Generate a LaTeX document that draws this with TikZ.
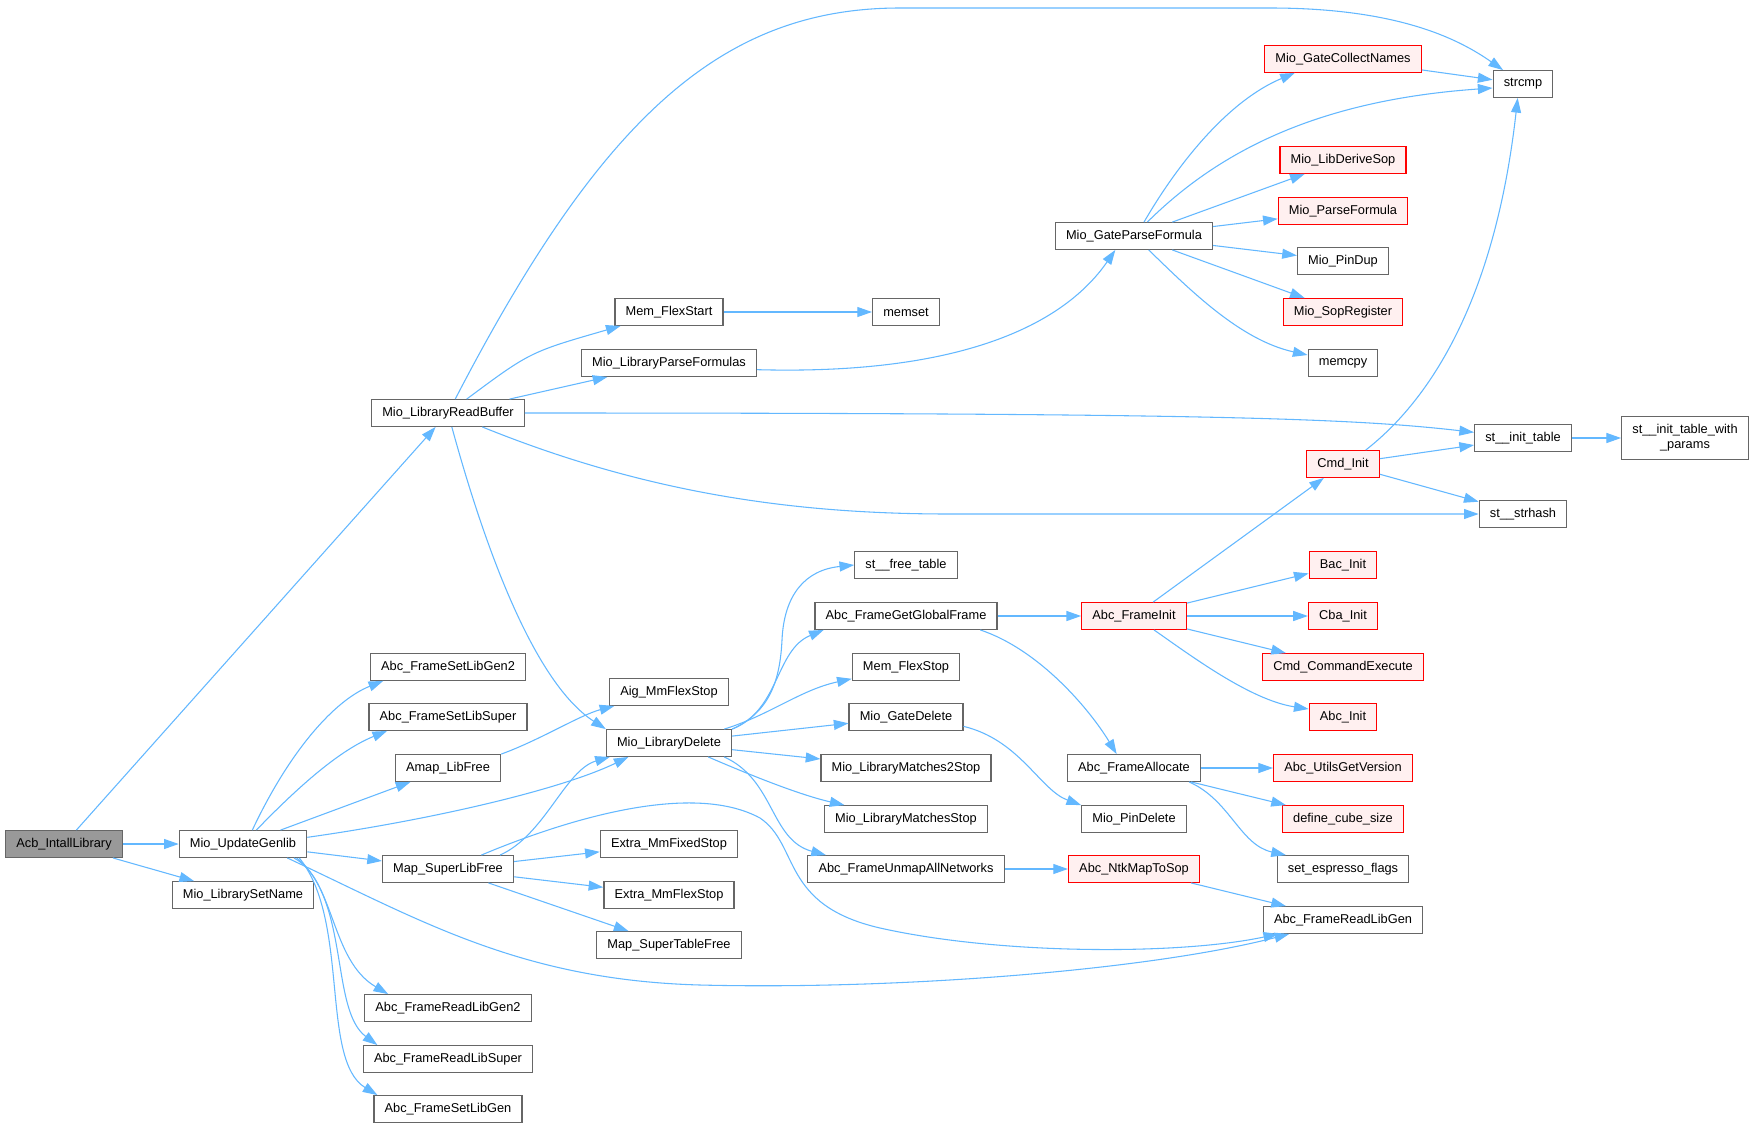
\documentclass[tikz,border=0pt]{standalone}
\usepackage{fontspec}
\setmainfont{Liberation Sans}
\usepackage{xcolor}
\usetikzlibrary{arrows.meta,positioning}

\definecolor{edgeblue}{HTML}{63B8FF}
\definecolor{boxgray}{HTML}{666666}
\definecolor{redfill}{HTML}{FFF0F0}
\definecolor{rootgray}{HTML}{999999}

\begin{document}
\begin{tikzpicture}[
    x=0.75pt, y=-0.75pt,
    func/.style={rectangle, draw=boxgray, fill=white, line width=0.9pt, minimum height=20pt, inner xsep=8pt, inner ysep=2pt, font=\fontsize{9.6}{11.5}\selectfont},
    funcred/.style={func, draw=red, fill=redfill},
    funcroot/.style={func, fill=rootgray},
    arrow/.style={-{Triangle[length=11pt,width=7.5pt]}, draw=edgeblue, line width=0.8pt}
]
\fill[white] (0,0) rectangle (1755,1128);
\useasboundingbox (0,0) rectangle (1755,1128);

% Draw functions
\node[funcroot] (acb) at (64,844) {Acb\_IntallLibrary};
\node[func] (updgen) at (243,844) {Mio\_UpdateGenlib};
\node[func] (setname) at (243,895) {Mio\_LibrarySetName};

\node[func] (readbuf) at (448,413) {Mio\_LibraryReadBuffer};
\node[func] (setgen2) at (448,667) {Abc\_FrameSetLibGen2};
\node[func] (setsuper) at (448,717) {Abc\_FrameSetLibSuper};
\node[func] (amapfree) at (448,768) {Amap\_LibFree};
\node[func] (superfree) at (448,869) {Map\_SuperLibFree};
\node[func] (readgen2) at (448,1008) {Abc\_FrameReadLibGen2};
\node[func] (readsuper) at (448,1059) {Abc\_FrameReadLibSuper};
\node[func] (setgen) at (448,1109) {Abc\_FrameSetLibGen};

\node[func] (flexstart) at (669,312) {Mem\_FlexStart};
\node[func] (parseforms) at (669,363) {Mio\_LibraryParseFormulas};
\node[func] (aigstop) at (669,692) {Aig\_MmFlexStop};
\node[func] (libdelete) at (669,743) {Mio\_LibraryDelete};
\node[func] (fixedstop) at (669,844) {Extra\_MmFixedStop};
\node[func] (extraflex) at (669,895) {Extra\_MmFlexStop};
\node[func] (supertable) at (669,945) {Map\_SuperTableFree};

\node[func] (memset) at (906,312) {memset};
\node[func] (freetable) at (906,565) {st\_\_free\_table};
\node[func] (globalframe) at (906,616) {Abc\_FrameGetGlobalFrame};
\node[func] (memflexstop) at (906,667) {Mem\_FlexStop};
\node[func] (gatedelete) at (906,717) {Mio\_GateDelete};
\node[func] (matches2) at (906,768) {Mio\_LibraryMatches2Stop};
\node[func] (matches) at (906,819) {Mio\_LibraryMatchesStop};
\node[func] (unmap) at (906,869) {Abc\_FrameUnmapAllNetworks};

\node[func] (gateparse) at (1134,236) {Mio\_GateParseFormula};
\node[funcred] (frameinit) at (1134,616) {Abc\_FrameInit};
\node[func] (allocate) at (1134,768) {Abc\_FrameAllocate};
\node[func] (pindelete) at (1134,819) {Mio\_PinDelete};
\node[funcred] (ntkmap) at (1134,869) {Abc\_NtkMapToSop};

\node[funcred] (collect) at (1343,59) {Mio\_GateCollectNames};
\node[funcred] (derivesop) at (1343,160) {Mio\_LibDeriveSop};
\node[funcred] (parsef) at (1343,211) {Mio\_ParseFormula};
\node[func] (pindup) at (1343,261) {Mio\_PinDup};
\node[funcred] (sopreg) at (1343,312) {Mio\_SopRegister};
\node[func] (memcpy) at (1343,363) {memcpy};
\node[funcred] (cmdinit) at (1343,464) {Cmd\_Init};
\node[funcred] (bacinit) at (1343,565) {Bac\_Init};
\node[funcred] (cbainit) at (1343,616) {Cba\_Init};
\node[funcred] (cmdexec) at (1343,667) {Cmd\_CommandExecute};
\node[funcred] (abcinit) at (1343,717) {Abc\_Init};
\node[funcred] (version) at (1343,768) {Abc\_UtilsGetVersion};
\node[funcred] (cubesize) at (1343,819) {define\_cube\_size};
\node[func] (espresso) at (1343,869) {set\_espresso\_flags};
\node[func] (readgen) at (1343,920) {Abc\_FrameReadLibGen};

\node[func] (strcmp) at (1523,84) {strcmp};
\node[func] (inittable) at (1523,438) {st\_\_init\_table};
\node[func] (strhash) at (1523,514) {st\_\_strhash};
\node[func, align=center, minimum height=32pt] (params) at (1685,438) {st\_\_init\_table\_with\\\_params};

% Draw arrows
\draw[arrow] (acb) -- (readbuf);
\draw[arrow] (acb) -- (updgen);
\draw[arrow] (acb) -- (setname);

\draw[arrow] (readbuf) .. controls (600,120) and (720,8) .. (900,8) -- (1270,8) .. controls (1400,8) and (1460,40) .. (strcmp);
\draw[arrow] (readbuf) .. controls (530,352) .. (flexstart);
\draw[arrow] (readbuf) -- (parseforms);
\draw[arrow] (readbuf.east) .. controls (1200,413) and (1350,418) .. (inittable);
\draw[arrow] (readbuf) .. controls (650,495) and (800,514) .. (950,514) -- (strhash);
\draw[arrow] (readbuf) .. controls (480,530) and (530,680) .. (libdelete.north west);

\draw[arrow] ([xshift=7pt]updgen.north) .. controls (290,750) and (335,700) .. ([xshift=10pt]setgen2.south west);
\draw[arrow] ([xshift=10pt]updgen.north) .. controls (300,785) and (340,750) .. ([xshift=14pt]setsuper.south west);
\draw[arrow] (updgen) -- (amapfree);
\draw[arrow] ([yshift=5pt]updgen.east) .. controls (430,820) and (560,790) .. ([xshift=17pt]libdelete.south west);
\draw[arrow] (updgen) -- (superfree);
\draw[arrow] ([xshift=-15pt]updgen.south east) .. controls (420,920) and (520,980) .. (700,985) .. controls (900,990) and (1150,970) .. (readgen);
\draw[arrow] ([xshift=-10pt]updgen.south east) .. controls (335,880) and (330,960) .. ([xshift=18pt]readgen2.north west);
\draw[arrow] ([xshift=-8pt]updgen.south east) .. controls (350,900) and (330,1010) .. ([xshift=11pt]readsuper.north west);
\draw[arrow] ([xshift=-6pt]updgen.south east) .. controls (350,920) and (320,1060) .. ([xshift=3pt]setgen.north west);

\draw[arrow] (amapfree.north east) .. controls (540,740) and (580,715) .. ([xshift=4pt]aigstop.south west);

\draw[arrow] ([xshift=39pt]superfree.north) .. controls (545,835) and (565,770) .. ([xshift=3pt]libdelete.south west);
\draw[arrow] ([xshift=25pt]superfree.north) .. controls (560,822) and (690,780) .. (760,818) .. controls (800,845) and (780,905) .. (880,928) .. controls (1000,955) and (1180,955) .. (readgen);
\draw[arrow] (superfree) -- (fixedstop);
\draw[arrow] (superfree) -- (extraflex);
\draw[arrow] (superfree) -- (supertable);

\draw[arrow] (libdelete.north east) .. controls (770,712) and (780,680) .. (782,640) .. controls (784,595) and (805,570) .. (freetable.west);
\draw[arrow] (libdelete.north east) .. controls (780,710) and (775,650) .. ([xshift=7pt]globalframe.south west);
\draw[arrow] ([xshift=-6pt]libdelete.north east) .. controls (770,715) and (800,690) .. (memflexstop);
\draw[arrow] (libdelete) -- (gatedelete);
\draw[arrow] (libdelete) -- (matches2);
\draw[arrow] ([xshift=-18pt]libdelete.south east) .. controls (750,775) and (800,795) .. (matches);
\draw[arrow] ([xshift=-6pt]libdelete.south east) .. controls (775,780) and (770,840) .. ([xshift=14pt]unmap.north west);

\draw[arrow] (flexstart) -- (memset);
\draw[arrow] ([yshift=-5pt]parseforms.east) .. controls (950,375) and (1060,330) .. ([xshift=-14pt]gateparse.south);

\draw[arrow] ([xshift=7.5pt]gateparse.north) .. controls (1180,160) and (1230,100) .. ([xshift=23pt]collect.south west);
\draw[arrow] ([xshift=10pt]gateparse.north) .. controls (1220,150) and (1320,100) .. ([yshift=-3pt]strcmp.west);
\draw[arrow] (gateparse) -- (derivesop);
\draw[arrow] (gateparse) -- (parsef);
\draw[arrow] (gateparse) -- (pindup);
\draw[arrow] (gateparse) -- (sopreg);
\draw[arrow] ([xshift=11pt]gateparse.south) .. controls (1190,290) and (1240,340) .. ([yshift=6pt]memcpy.west);
\draw[arrow] (collect) -- (strcmp);

\draw[arrow] ([xshift=17pt]cmdinit.north) .. controls (1430,400) and (1495,300) .. ([xshift=-4pt]strcmp.south);
\draw[arrow] (cmdinit) -- (inittable);
\draw[arrow] (cmdinit) -- (strhash);
\draw[arrow] (inittable) -- (params);

\draw[arrow] (globalframe) -- (frameinit);
\draw[arrow] ([xshift=-13pt]globalframe.south east) .. controls (1040,650) and (1090,710) .. ([xshift=-13pt]allocate.north);
\draw[arrow] (frameinit) -- (cmdinit);
\draw[arrow] (frameinit) -- (bacinit);
\draw[arrow] (frameinit) -- (cbainit);
\draw[arrow] (frameinit) -- (cmdexec);
\draw[arrow] ([xshift=15pt]frameinit.south) .. controls (1190,655) and (1250,700) .. ([yshift=6pt]abcinit.west);

\draw[arrow] ([yshift=-7pt]gatedelete.east) .. controls (1020,740) and (1040,790) .. (pindelete.north west);
\draw[arrow] (allocate) -- (version);
\draw[arrow] (allocate) -- (cubesize);
\draw[arrow] ([xshift=-9pt]allocate.south east) .. controls (1230,800) and (1240,845) .. ([xshift=7pt]espresso.north west);
\draw[arrow] (unmap) -- (ntkmap);
\draw[arrow] (ntkmap) -- (readgen);

\end{tikzpicture}
\end{document}
